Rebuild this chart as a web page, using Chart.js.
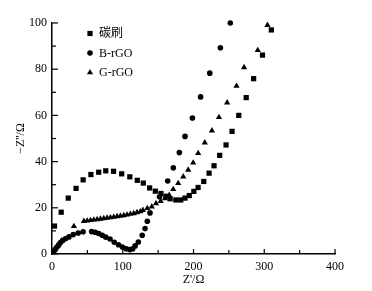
<!DOCTYPE html>
<html>
<head>
<meta charset="utf-8">
<script src="https://cdn.jsdelivr.net/npm/chart.js@4.4.1/dist/chart.umd.min.js"></script>
<style>
  html, body { margin: 0; padding: 0; background: #fff; }
  #wrap { width: 372px; height: 291px; }
</style>
</head>
<body>
<div id="wrap"><canvas id="eisChart" width="372" height="291"></canvas></div>
<script>
const SERIES_NAMES = ['碳刷', 'B-rGO', 'G-rGO'];

// 碳刷 (squares)
const brushRe = [3.5, 13, 23, 34, 44, 55, 66, 76, 87, 98.5, 110, 120.5, 129, 138, 146, 154, 161, 167, 175, 182,
  188, 194, 200.5, 206.5, 214.5, 222, 229, 237, 246, 254.5, 264, 274.5, 285, 297.5, 310];
const brushIm = [12.1, 18.1, 24.2, 28.4, 32.1, 34.4, 35.4, 36, 35.8, 34.7, 33.4, 31.9, 30.7, 28.6, 27.2, 26.2, 25,
  23.9, 23.4, 23.4, 24.2, 25.3, 27.1, 28.8, 31.4, 35, 38.2, 42.7, 47.2, 53.1, 60, 67.7, 75.9, 86.1, 97];

// B-rGO (circles)
const bRe = [2.5, 4.5, 7, 9.5, 12, 15, 19, 24, 30, 37, 44, 56, 61, 66, 71, 76, 82, 88, 94, 99.5, 105, 110, 114,
  117.5, 122, 127.5, 131.5, 134.7, 138.5, 152, 163.5, 171.5, 180, 188, 198.5, 210, 223, 238, 252];
const bIm = [1.2, 2, 3, 4, 5, 5.8, 6.6, 7.4, 8.4, 9.1, 9.6, 9.7, 9.4, 8.9, 8.1, 7.3, 6.5, 5.1, 4, 3, 2.2, 1.9,
  2.2, 3.5, 5.2, 8.1, 11, 14.2, 17.8, 24.8, 31.6, 37.3, 43.9, 50.9, 58.9, 68, 78.3, 89.3, 100];

// G-rGO (triangles)
const gRe = [4, 8, 14, 31, 45, 49.7, 54.4, 59.1, 63.8, 68.5, 73.2, 77.9, 82.6, 87.3, 92, 96.7, 101.4, 106.1, 110.8,
  115.5, 120.2, 124.9, 128.5, 134.7, 141, 147, 153.6, 159.7, 165.7, 171.4, 178.4, 185.5, 192.5, 199.6, 206.6, 216,
  226, 236, 247.5, 260.8, 271.5, 290.8, 304.5];
const gIm = [2, 3.5, 5.8, 12, 14.2, 14.4, 14.6, 14.8, 15, 15.2, 15.4, 15.6, 15.8, 16, 16.3, 16.5, 16.7, 17, 17.3,
  17.6, 18, 18.4, 19, 19.8, 20.5, 21.9, 22.9, 24.1, 25.5, 28, 30.6, 33.5, 36.4, 39.5, 43.6, 48.2, 53.4, 59.2, 65.5,
  72.7, 80.8, 88.2, 99.1];

const X_TICKS = [0, 100, 200, 300, 400];
const Y_TICKS = [0, 20, 40, 60, 80, 100];

const FONT = "'Liberation Serif', 'Times New Roman', 'Noto Sans CJK SC', serif";

function toPoints(xs, ys) {
  return xs.map((x, i) => ({ x: x, y: ys[i] }));
}

// tick marks pointing into the plot
const innerTicks = {
  id: 'innerTicks',
  afterDraw(chart) {
    const { ctx, chartArea, scales } = chart;
    ctx.save();
    ctx.strokeStyle = '#000';
    ctx.lineWidth = 1.2;
    for (let v = 0; v <= 400; v += 50) {
      const px = scales.x.getPixelForValue(v);
      const len = v % 100 === 0 ? 5 : 4;
      ctx.beginPath();
      ctx.moveTo(px, chartArea.bottom);
      ctx.lineTo(px, chartArea.bottom - len);
      ctx.stroke();
    }
    for (let v = 0; v <= 100; v += 10) {
      const py = scales.y.getPixelForValue(v);
      const len = v % 20 === 0 ? 6 : 4;
      ctx.beginPath();
      ctx.moveTo(chartArea.left, py);
      ctx.lineTo(chartArea.left + len, py);
      ctx.stroke();
    }
    ctx.restore();
  }
};

// legend inside top-left of plot
const innerLegend = {
  id: 'innerLegend',
  afterDraw(chart) {
    const ctx = chart.ctx;
    const rows = [33.5, 53, 72.5];
    ctx.save();
    ctx.fillStyle = '#000';
    ctx.font = '12px ' + FONT;
    ctx.textBaseline = 'middle';
    chart.data.datasets.forEach((ds, i) => {
      const cx = 90, cy = rows[i];
      ctx.beginPath();
      if (ds.pointStyle === 'rect') {
        ctx.rect(cx - 2.6, cy - 2.6, 5.2, 5.2);
      } else if (ds.pointStyle === 'circle') {
        ctx.arc(cx, cy, 2.8, 0, Math.PI * 2);
      } else {
        ctx.moveTo(cx, cy - 3.6);
        ctx.lineTo(cx + 3.1, cy + 1.8);
        ctx.lineTo(cx - 3.1, cy + 1.8);
        ctx.closePath();
      }
      ctx.fill();
      ctx.fillText(ds.label, 99, cy + 0.5);
    });
    ctx.restore();
  }
};

function renderChart() {
  const ctx = document.getElementById('eisChart').getContext('2d');
  const tickFont = { family: FONT, size: 12 };

  new Chart(ctx, {
    type: 'scatter',
    data: {
      datasets: [
        {
          label: SERIES_NAMES[0],
          data: toPoints(brushRe, brushIm),
          pointStyle: 'rect',
          pointRadius: 3.7,
          backgroundColor: '#000',
          borderWidth: 0,
          clip: false
        },
        {
          label: SERIES_NAMES[1],
          data: toPoints(bRe, bIm),
          pointStyle: 'circle',
          pointRadius: 2.8,
          backgroundColor: '#000',
          borderWidth: 0,
          clip: false
        },
        {
          label: SERIES_NAMES[2],
          data: toPoints(gRe, gIm),
          pointStyle: 'triangle',
          pointRadius: 3.6,
          backgroundColor: '#000',
          borderWidth: 0,
          clip: false
        }
      ]
    },
    options: {
      responsive: false,
      animation: false,
      layout: { padding: { left: 0, top: 23, right: 37, bottom: 0 } },
      plugins: {
        legend: { display: false },
        tooltip: { enabled: false }
      },
      scales: {
        x: {
          type: 'linear',
          min: 0,
          max: 400,
          afterBuildTicks: s => { s.ticks = X_TICKS.map(v => ({ value: v })); },
          afterFit: s => { s.height = 37; },
          ticks: { color: '#000', font: tickFont, padding: 6, maxRotation: 0 },
          grid: { display: false, drawTicks: false },
          border: { color: '#000', width: 1.5 },
          title: {
            display: true,
            text: "Z'/Ω",
            color: '#000',
            font: tickFont,
            padding: { top: 0, bottom: 4 }
          }
        },
        y: {
          type: 'linear',
          min: 0,
          max: 100,
          afterBuildTicks: s => { s.ticks = Y_TICKS.map(v => ({ value: v })); },
          afterFit: s => { s.width = 52; },
          ticks: { color: '#000', font: tickFont, padding: 5 },
          grid: { display: false, drawTicks: false },
          border: { color: '#000', width: 1.5 },
          title: {
            display: true,
            text: "−Z''/Ω",
            color: '#000',
            font: tickFont,
            padding: { top: 13.5, bottom: 0 }
          }
        }
      }
    },
    plugins: [innerTicks, innerLegend]
  });
}

renderChart();
</script>
</body>
</html>
